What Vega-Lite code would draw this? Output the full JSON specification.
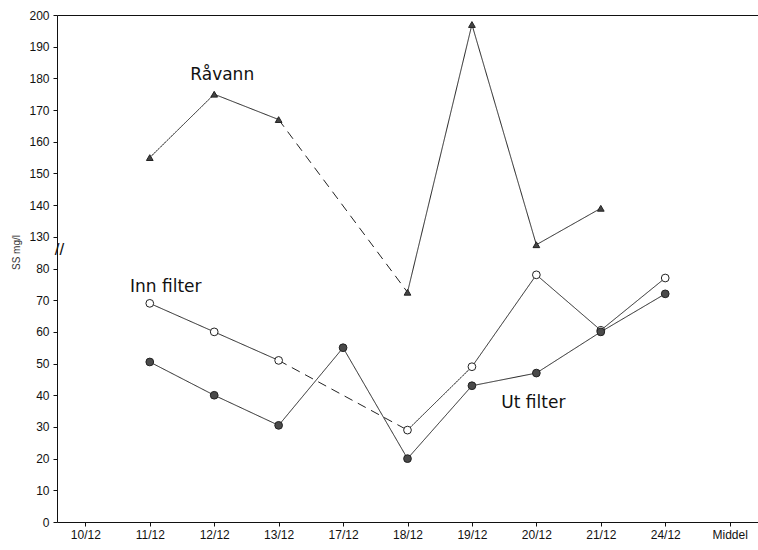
{
  "$schema": "https://vega.github.io/schema/vega-lite/v6.json",
  "width": 701,
  "height": 507,
  "autosize": {"type": "none"},
  "padding": {"left": 57, "top": 15, "right": 0, "bottom": 28},
  "background": "white",
  "config": {
    "view": {"stroke": null},
    "font": "Liberation Sans",
    "axis": {
      "domainColor": "#111",
      "domainWidth": 1,
      "tickColor": "#111",
      "labelColor": "#111",
      "labelFont": "Liberation Sans",
      "labelFontSize": 12,
      "grid": false
    }
  },
  "datasets": {
    "filterPunkter": [
      {"serie": "Inn filter", "dato": "11/12", "verdi": 69},
      {"serie": "Inn filter", "dato": "12/12", "verdi": 60},
      {"serie": "Inn filter", "dato": "13/12", "verdi": 51},
      {"serie": "Inn filter", "dato": "18/12", "verdi": 29},
      {"serie": "Inn filter", "dato": "19/12", "verdi": 49},
      {"serie": "Inn filter", "dato": "20/12", "verdi": 78},
      {"serie": "Inn filter", "dato": "21/12", "verdi": 60.5},
      {"serie": "Inn filter", "dato": "24/12", "verdi": 77},
      {"serie": "Ut filter", "dato": "11/12", "verdi": 50.5},
      {"serie": "Ut filter", "dato": "12/12", "verdi": 40},
      {"serie": "Ut filter", "dato": "13/12", "verdi": 30.5},
      {"serie": "Ut filter", "dato": "17/12", "verdi": 55},
      {"serie": "Ut filter", "dato": "18/12", "verdi": 20},
      {"serie": "Ut filter", "dato": "19/12", "verdi": 43},
      {"serie": "Ut filter", "dato": "20/12", "verdi": 47},
      {"serie": "Ut filter", "dato": "21/12", "verdi": 60},
      {"serie": "Ut filter", "dato": "24/12", "verdi": 72}
    ],
    "filterLinjer": [
      {"del": "Inn a", "stil": "heltrukket", "dato": "11/12", "verdi": 69},
      {"del": "Inn a", "stil": "heltrukket", "dato": "12/12", "verdi": 60},
      {"del": "Inn a", "stil": "heltrukket", "dato": "13/12", "verdi": 51},
      {"del": "Inn b", "stil": "stiplet", "dato": "13/12", "verdi": 51},
      {"del": "Inn b", "stil": "stiplet", "dato": "18/12", "verdi": 29},
      {"del": "Inn c", "stil": "heltrukket", "dato": "18/12", "verdi": 29},
      {"del": "Inn c", "stil": "heltrukket", "dato": "19/12", "verdi": 49},
      {"del": "Inn c", "stil": "heltrukket", "dato": "20/12", "verdi": 78},
      {"del": "Inn c", "stil": "heltrukket", "dato": "21/12", "verdi": 60.5},
      {"del": "Inn c", "stil": "heltrukket", "dato": "24/12", "verdi": 77},
      {"del": "Ut", "stil": "heltrukket", "dato": "11/12", "verdi": 50.5},
      {"del": "Ut", "stil": "heltrukket", "dato": "12/12", "verdi": 40},
      {"del": "Ut", "stil": "heltrukket", "dato": "13/12", "verdi": 30.5},
      {"del": "Ut", "stil": "heltrukket", "dato": "17/12", "verdi": 55},
      {"del": "Ut", "stil": "heltrukket", "dato": "18/12", "verdi": 20},
      {"del": "Ut", "stil": "heltrukket", "dato": "19/12", "verdi": 43},
      {"del": "Ut", "stil": "heltrukket", "dato": "20/12", "verdi": 47},
      {"del": "Ut", "stil": "heltrukket", "dato": "21/12", "verdi": 60},
      {"del": "Ut", "stil": "heltrukket", "dato": "24/12", "verdi": 72}
    ],
    "raavannPunkter": [
      {"serie": "Råvann", "dato": "11/12", "verdi": 155},
      {"serie": "Råvann", "dato": "12/12", "verdi": 175},
      {"serie": "Råvann", "dato": "13/12", "verdi": 167},
      {"serie": "Råvann", "dato": "18/12", "verdi": 112.5},
      {"serie": "Råvann", "dato": "19/12", "verdi": 197},
      {"serie": "Råvann", "dato": "20/12", "verdi": 127.5},
      {"serie": "Råvann", "dato": "21/12", "verdi": 139}
    ],
    "raavannLinjer": [
      {"del": "a", "stil": "heltrukket", "dato": "11/12", "verdi": 155},
      {"del": "a", "stil": "heltrukket", "dato": "12/12", "verdi": 175},
      {"del": "a", "stil": "heltrukket", "dato": "13/12", "verdi": 167},
      {"del": "b", "stil": "stiplet", "dato": "13/12", "verdi": 167},
      {"del": "b", "stil": "stiplet", "dato": "18/12", "verdi": 112.5},
      {"del": "c", "stil": "heltrukket", "dato": "18/12", "verdi": 112.5},
      {"del": "c", "stil": "heltrukket", "dato": "19/12", "verdi": 197},
      {"del": "c", "stil": "heltrukket", "dato": "20/12", "verdi": 127.5},
      {"del": "c", "stil": "heltrukket", "dato": "21/12", "verdi": 139}
    ]
  },
  "layer": [
    {
      "encoding": {
        "x": {
          "field": "dato",
          "type": "ordinal",
          "scale": {
            "type": "point",
            "domain": ["10/12", "11/12", "12/12", "13/12", "17/12", "18/12", "19/12", "20/12", "21/12", "24/12", "Middel"],
            "padding": 0.44
          },
          "axis": {
            "orient": "bottom",
            "title": null,
            "labelAngle": 0,
            "tickSize": 4,
            "labelPadding": 3,
            "domainWidth": 1
          }
        },
        "y": {
          "field": "verdi",
          "type": "quantitative",
          "scale": {"domain": [0, 160], "nice": false, "zero": false},
          "axis": {
            "orient": "left",
            "title": "SS mg/l",
            "titleFont": "Liberation Sans",
            "titleFontSize": 10,
            "titleFontWeight": "normal",
            "titleColor": "#333",
            "titlePadding": 14,
            "titleY": 237,
            "values": [0, 10, 20, 30, 40, 50, 60, 70, 80, 86],
            "labelExpr": "datum.value == 86 ? '//' : datum.label",
            "tickSize": {"condition": {"test": "datum.value == 86", "value": 0}, "value": 4},
            "labelPadding": {"condition": {"test": "datum.value == 86", "value": -2}, "value": 4},
            "labelAlign": {"condition": {"test": "datum.value == 86", "value": "center"}, "value": "right"},
            "labelFontSize": {"condition": {"test": "datum.value == 86", "value": 17}, "value": 12}
          }
        }
      },
      "layer": [
        {
          "data": {"name": "filterLinjer"},
          "mark": {"type": "line", "color": "#222", "strokeWidth": 1},
          "encoding": {
            "detail": {"field": "del", "type": "nominal"},
            "strokeDash": {
              "field": "stil",
              "type": "nominal",
              "scale": {"domain": ["heltrukket", "stiplet"], "range": [[1, 0], [9, 6]]},
              "legend": null
            }
          }
        },
        {
          "data": {"name": "filterPunkter"},
          "mark": {"type": "point", "shape": "circle", "filled": true, "size": 60, "stroke": "#222", "strokeWidth": 1, "opacity": 1},
          "encoding": {
            "fill": {
              "field": "serie",
              "type": "nominal",
              "scale": {"domain": ["Inn filter", "Ut filter"], "range": ["#ffffff", "#4a4a4a"]},
              "legend": null
            }
          }
        },
        {
          "data": {"values": [{"tekst": "Inn filter", "dato": "11/12", "verdi": 74.2}]},
          "mark": {"type": "text", "font": "DejaVu Sans", "fontSize": 17, "color": "#111", "align": "center", "baseline": "middle", "dx": 16},
          "encoding": {"text": {"field": "tekst", "type": "nominal"}}
        },
        {
          "data": {"values": [{"tekst": "Ut filter", "dato": "20/12", "verdi": 37.6}]},
          "mark": {"type": "text", "font": "DejaVu Sans", "fontSize": 17, "color": "#111", "align": "center", "baseline": "middle", "dx": -3},
          "encoding": {"text": {"field": "tekst", "type": "nominal"}}
        }
      ]
    },
    {
      "encoding": {
        "x": {
          "field": "dato",
          "type": "ordinal",
          "scale": {
            "type": "point",
            "domain": ["10/12", "11/12", "12/12", "13/12", "17/12", "18/12", "19/12", "20/12", "21/12", "24/12", "Middel"],
            "padding": 0.44
          },
          "axis": {
            "orient": "top",
            "title": null,
            "labels": false,
            "ticks": false,
            "domain": true,
            "domainWidth": 1
          }
        },
        "y": {
          "field": "verdi",
          "type": "quantitative",
          "scale": {"domain": [40, 200], "nice": false, "zero": false},
          "axis": {
            "orient": "left",
            "title": null,
            "domain": false,
            "values": [130, 140, 150, 160, 170, 180, 190, 200],
            "tickSize": 4,
            "labelPadding": 4
          }
        }
      },
      "layer": [
        {
          "data": {"name": "raavannLinjer"},
          "mark": {"type": "line", "color": "#222", "strokeWidth": 1},
          "encoding": {
            "detail": {"field": "del", "type": "nominal"},
            "strokeDash": {
              "field": "stil",
              "type": "nominal",
              "scale": {"domain": ["heltrukket", "stiplet"], "range": [[1, 0], [9, 6]]},
              "legend": null
            }
          }
        },
        {
          "data": {"name": "raavannPunkter"},
          "mark": {"type": "point", "shape": "triangle-up", "filled": true, "size": 45, "fill": "#444", "stroke": "#222", "strokeWidth": 1, "opacity": 1}
        },
        {
          "data": {"values": [{"tekst": "Råvann", "dato": "12/12", "verdi": 181}]},
          "mark": {"type": "text", "font": "DejaVu Sans", "fontSize": 17, "color": "#111", "align": "center", "baseline": "middle", "dx": 8},
          "encoding": {"text": {"field": "tekst", "type": "nominal"}}
        }
      ]
    }
  ],
  "resolve": {
    "scale": {"y": "independent", "strokeDash": "shared"},
    "axis": {"y": "independent", "x": "independent"}
  }
}
